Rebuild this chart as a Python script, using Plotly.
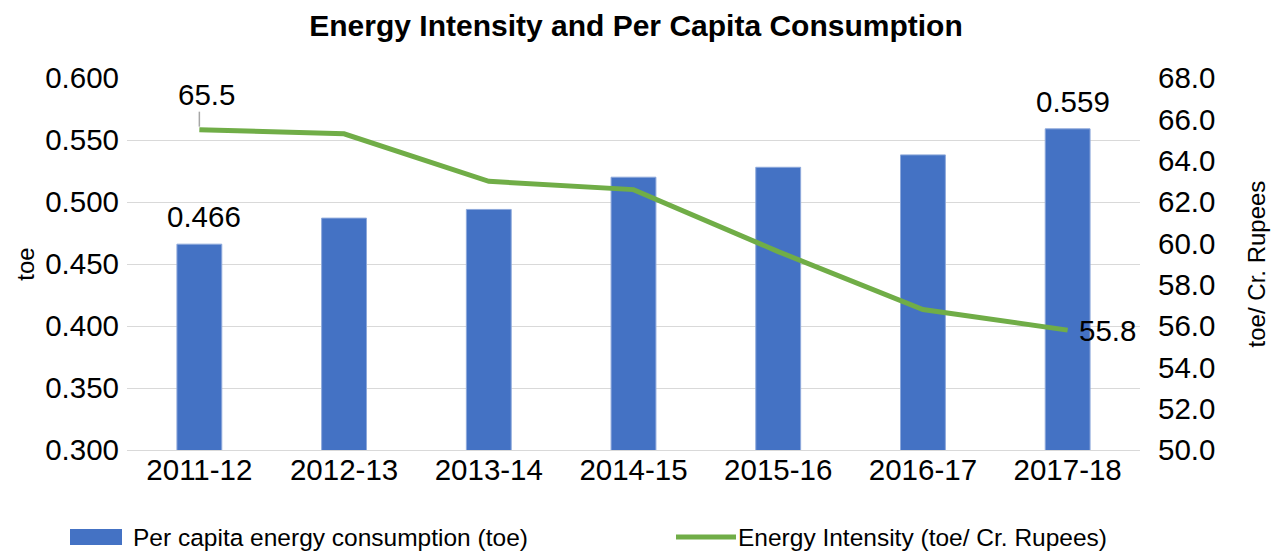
import plotly.graph_objects as go

years = ["2011-12", "2012-13", "2013-14", "2014-15", "2015-16", "2016-17", "2017-18"]
per_capita = [0.466, 0.487, 0.494, 0.520, 0.528, 0.538, 0.559]
intensity = [65.5, 65.3, 63.0, 62.6, 59.6, 56.8, 55.8]
bar_name = "Per capita energy consumption (toe)"
line_name = "Energy Intensity (toe/ Cr. Rupees)"
left_ticks = [0.300, 0.350, 0.400, 0.450, 0.500, 0.550, 0.600]
right_ticks = [50, 52, 54, 56, 58, 60, 62, 64, 66, 68]

W, H = 1272, 551
L, R, T, B = 127, 132, 78, 101
PW, PH = W - L - R, H - T - B
FONT = "Liberation Sans, Arial, sans-serif"
BLUE = "#4472C4"
GREEN = "#70AD47"
GRID = "#D9D9D9"
TICK = 29.5
LEG_Y = 537

def px(x):
    return (x - L) / PW

def py(y):
    return (H - B - y) / PH

fig = go.Figure()
fig.add_trace(go.Bar(
    x=years, y=per_capita, name=bar_name, width=0.31,
    marker=dict(color=BLUE, line=dict(color="#8EA9DB", width=1)),
    showlegend=False, yaxis="y",
))
fig.add_trace(go.Scatter(
    x=years, y=intensity, name=line_name, mode="lines",
    line=dict(color=GREEN, width=5), showlegend=False, yaxis="y2",
))

annotations = []
for i in (0, len(years) - 1):
    annotations.append(dict(
        x=years[i], y=per_capita[i], xref="x", yref="y",
        text=f"{per_capita[i]:.3f}", showarrow=False,
        yanchor="bottom", yshift=9, xshift=5,
        font=dict(family=FONT, size=TICK, color="#000000"),
    ))
annotations.append(dict(
    x=years[0], y=intensity[0], xref="x", yref="y2",
    text=f"{intensity[0]:.1f}", showarrow=False,
    yanchor="bottom", yshift=17, xshift=7,
    font=dict(family=FONT, size=TICK, color="#000000"),
))
annotations.append(dict(
    x=years[-1], y=intensity[-1], xref="x", yref="y2",
    text=f"{intensity[-1]:.1f}", showarrow=False,
    xanchor="left", xshift=9,
    font=dict(family=FONT, size=TICK, color="#000000"),
))
annotations.append(dict(
    x=px(131), y=py(LEG_Y), xref="paper", yref="paper", text=bar_name,
    showarrow=False, xanchor="left", yanchor="middle",
    font=dict(family=FONT, size=24.5, color="#000000"),
))
annotations.append(dict(
    x=px(736), y=py(LEG_Y), xref="paper", yref="paper", text=line_name,
    showarrow=False, xanchor="left", yanchor="middle",
    font=dict(family=FONT, size=24.5, color="#000000"),
))

shapes = [
    dict(type="line", xref="x", yref="y2", x0=years[0], x1=years[0],
         ysizemode="pixel", yanchor=intensity[0], y0=3, y1=18,
         line=dict(color="#A6A6A6", width=1.5)),
    dict(type="rect", xref="paper", yref="paper",
         x0=px(70), x1=px(122), y0=py(LEG_Y + 8), y1=py(LEG_Y - 8),
         fillcolor=BLUE, line=dict(width=0)),
    dict(type="line", xref="paper", yref="paper",
         x0=px(676), x1=px(736), y0=py(LEG_Y), y1=py(LEG_Y),
         line=dict(color=GREEN, width=5)),
]

fig.update_layout(
    width=W, height=H,
    margin=dict(l=L, r=R, t=T, b=B, autoexpand=False),
    paper_bgcolor="white", plot_bgcolor="white",
    font=dict(family=FONT, size=TICK, color="#000000"),
    title=dict(text="<b>Energy Intensity and Per Capita Consumption</b>",
               x=0.5, xref="container", xanchor="center",
               y=1 - 25 / H, yref="container", yanchor="middle",
               font=dict(family=FONT, size=30, color="#000000")),
    showlegend=False,
    xaxis=dict(
        type="category", showgrid=False, showline=True, linecolor=GRID, linewidth=1,
        ticks="", tickfont=dict(family=FONT, size=TICK), automargin=False,
        ticklabelstandoff=-6,
    ),
    yaxis=dict(
        range=[0.3, 0.6], tickvals=left_ticks, tickformat=".3f",
        showgrid=True, gridcolor=GRID, gridwidth=1, zeroline=False,
        ticks="", tickfont=dict(family=FONT, size=TICK), automargin=False,
        ticklabelstandoff=7,
        title=dict(text="toe", font=dict(family=FONT, size=24), standoff=3),
    ),
    yaxis2=dict(
        range=[50, 68], tickvals=right_ticks, tickformat=".1f",
        overlaying="y", side="right", showgrid=False, zeroline=False,
        ticks="", tickfont=dict(family=FONT, size=TICK), automargin=False,
        ticklabelstandoff=17,
        title=dict(text="toe/ Cr. Rupees", font=dict(family=FONT, size=24), standoff=33),
    ),
    annotations=annotations,
    shapes=shapes,
)

fig.write_html("out.html", config={"displayModeBar": False},
               post_script="document.body.style.margin='0';")
